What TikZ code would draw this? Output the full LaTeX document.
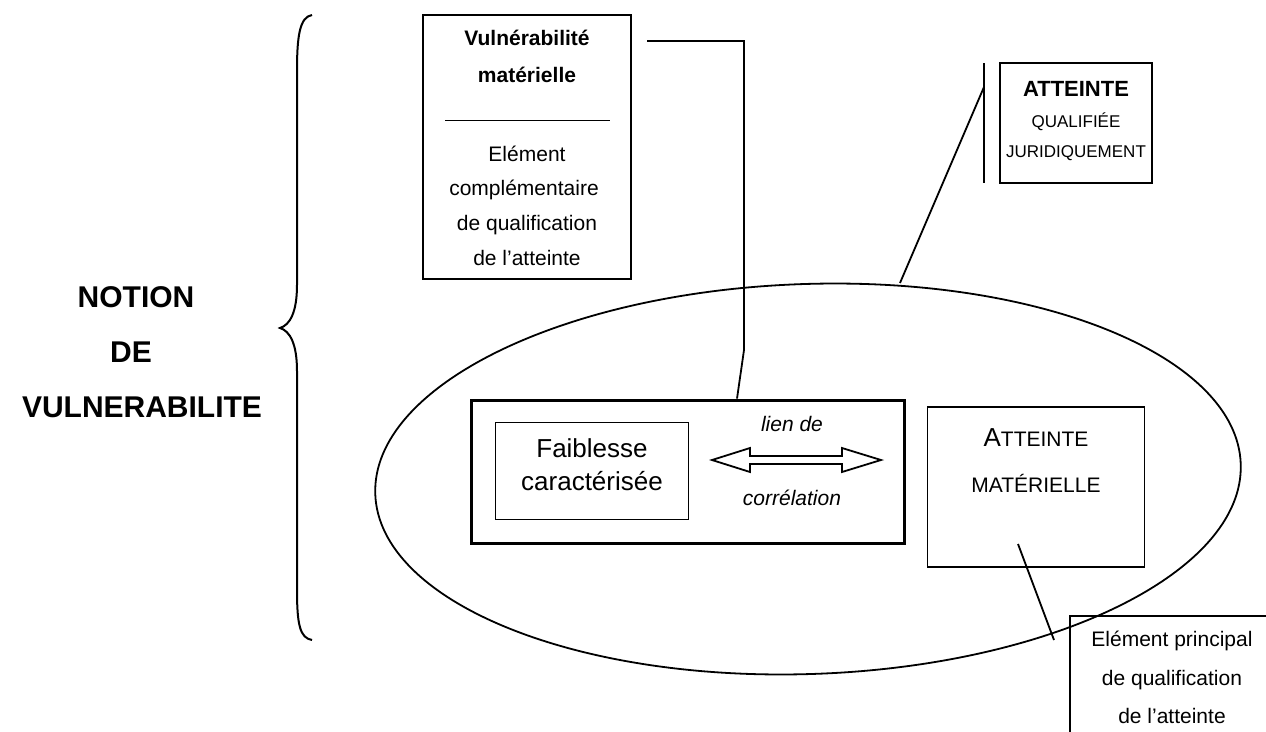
\documentclass[tikz,border=0pt]{standalone}
\usepackage{fontspec}
\setmainfont{Liberation Sans}
\usetikzlibrary{shapes.geometric,calc}
\begin{document}
\begin{tikzpicture}[x=1pt,y=-1pt,
  thinln/.style={line width=1.8pt},
  boxn/.style={draw,line width=1.8pt,inner sep=0pt,outer sep=0pt},
  txt/.style={inner sep=0pt,anchor=base,font=\fontsize{21}{25}\selectfont},
  big/.style={inner sep=0pt,anchor=base,font=\fontsize{30}{36}\selectfont\bfseries},
  fb/.style={inner sep=0pt,anchor=base,font=\fontsize{26}{30}\selectfont}]
\useasboundingbox (0,0) rectangle (1266,731);
% left title
\node[big] (t1) at (136,307) {NOTION};
\node[big] (t2) at (131,362) {DE};
\node[big] (t3) at (142,417) {VULNERABILITE};
% brace
\draw[line width=2pt] (312,15) .. controls (300,17) and (297,35) .. (297,70) -- (297,285)
  .. controls (297,312) and (290,325) .. (280,328)
  .. controls (290,331) and (297,344) .. (297,371) -- (297,590)
  .. controls (297,625) and (300,638) .. (312,640);
% ellipse
\node[draw,thinln,ellipse,inner sep=0pt,minimum width=866,minimum height=390,rotate=2] (ell) at (808,479) {};
% Vulnerabilite box
\node[boxn,minimum width=208,minimum height=264] (vuln) at (527,147) {};
\node[txt,font=\fontsize{21}{25}\selectfont\bfseries] (v1) at (527,45) {Vulnérabilité};
\node[txt,font=\fontsize{21}{25}\selectfont\bfseries] (v2) at (527,82) {matérielle};
\coordinate (sepL) at (445,120);
\coordinate (sepR) at (610,120);
\draw[line width=1pt] (sepL) -- (sepR);
\node[txt] (v3) at (527,161) {Elément};
\node[txt] (v4) at (524,195) {complémentaire};
\node[txt] (v5) at (527,230) {de qualification};
\node[txt] (v6) at (527,265) {de l’atteinte};
% ATTEINTE box
\node[boxn,minimum width=152,minimum height=120] (att) at (1076,123) {};
\node[txt,font=\fontsize{22}{26}\selectfont\bfseries] (a1) at (1076,96) {ATTEINTE};
\node[txt,font=\fontsize{17}{20}\selectfont] (a2) at (1076,127) {QUALIFIÉE};
\node[txt,font=\fontsize{17}{20}\selectfont] (a3) at (1076,157) {JURIDIQUEMENT};
\coordinate (vt) at ($(att.north west)+(-16,0)$);
\coordinate (vb) at ($(att.south west)+(-16,0)$);
\draw[thinln] (vt) -- (vb);
\coordinate (ae) at (900,283);
\draw[thinln] ($(vt)+(0,24)$) -- (ae);
% thick box
\node[draw,line width=3.8pt,inner sep=0pt,minimum width=433,minimum height=143] (thick) at (688,472) {};
\node[boxn,minimum width=193,minimum height=97] (faib) at (592,471) {};
\node[fb] (f1) at (592,457) {Faiblesse};
\node[fb] (f2) at (592,490) {caractérisée};
\draw[thinln,fill=white] (712,460) -- (750,448) -- (750,456) -- (842,456) -- (842,448) -- (881,460)
  -- (842,472) -- (842,464) -- (750,464) -- (750,472) -- cycle;
\node[txt,font=\fontsize{21}{25}\selectfont\itshape] (l1) at (792,431) {lien de};
\node[txt,font=\fontsize{21}{25}\selectfont\itshape] (l2) at (792,505) {corrélation};
% connector vuln -> thick
\draw[thinln] ($(vuln.north east)+(16,26)$) -| (744,350) -- (thick.north -| 737,0);
% Atteinte materielle
\node[boxn,minimum width=217,minimum height=160] (am) at (1036,487) {};
\node[txt] (m1) at (1036,446) {{\fontsize{26}{30}\selectfont A}TTEINTE};
\node[txt] (m2) at (1036,492) {MATÉRIELLE};
% Element principal
\begin{scope}
\clip (0,0) rectangle (1266,731);
\node[boxn,minimum width=200,minimum height=130,anchor=north west] (ep) at (1070,616) {};
\end{scope}
\node[txt] (e1) at (1172,646) {Elément principal};
\node[txt] (e2) at (1172,685) {de qualification};
\node[txt] (e3) at (1172,723) {de l’atteinte};
\coordinate (amp) at (1018,544);
\coordinate (epp) at (1054,640);
\draw[thinln] (amp) -- (epp);
\end{tikzpicture}
\end{document}
